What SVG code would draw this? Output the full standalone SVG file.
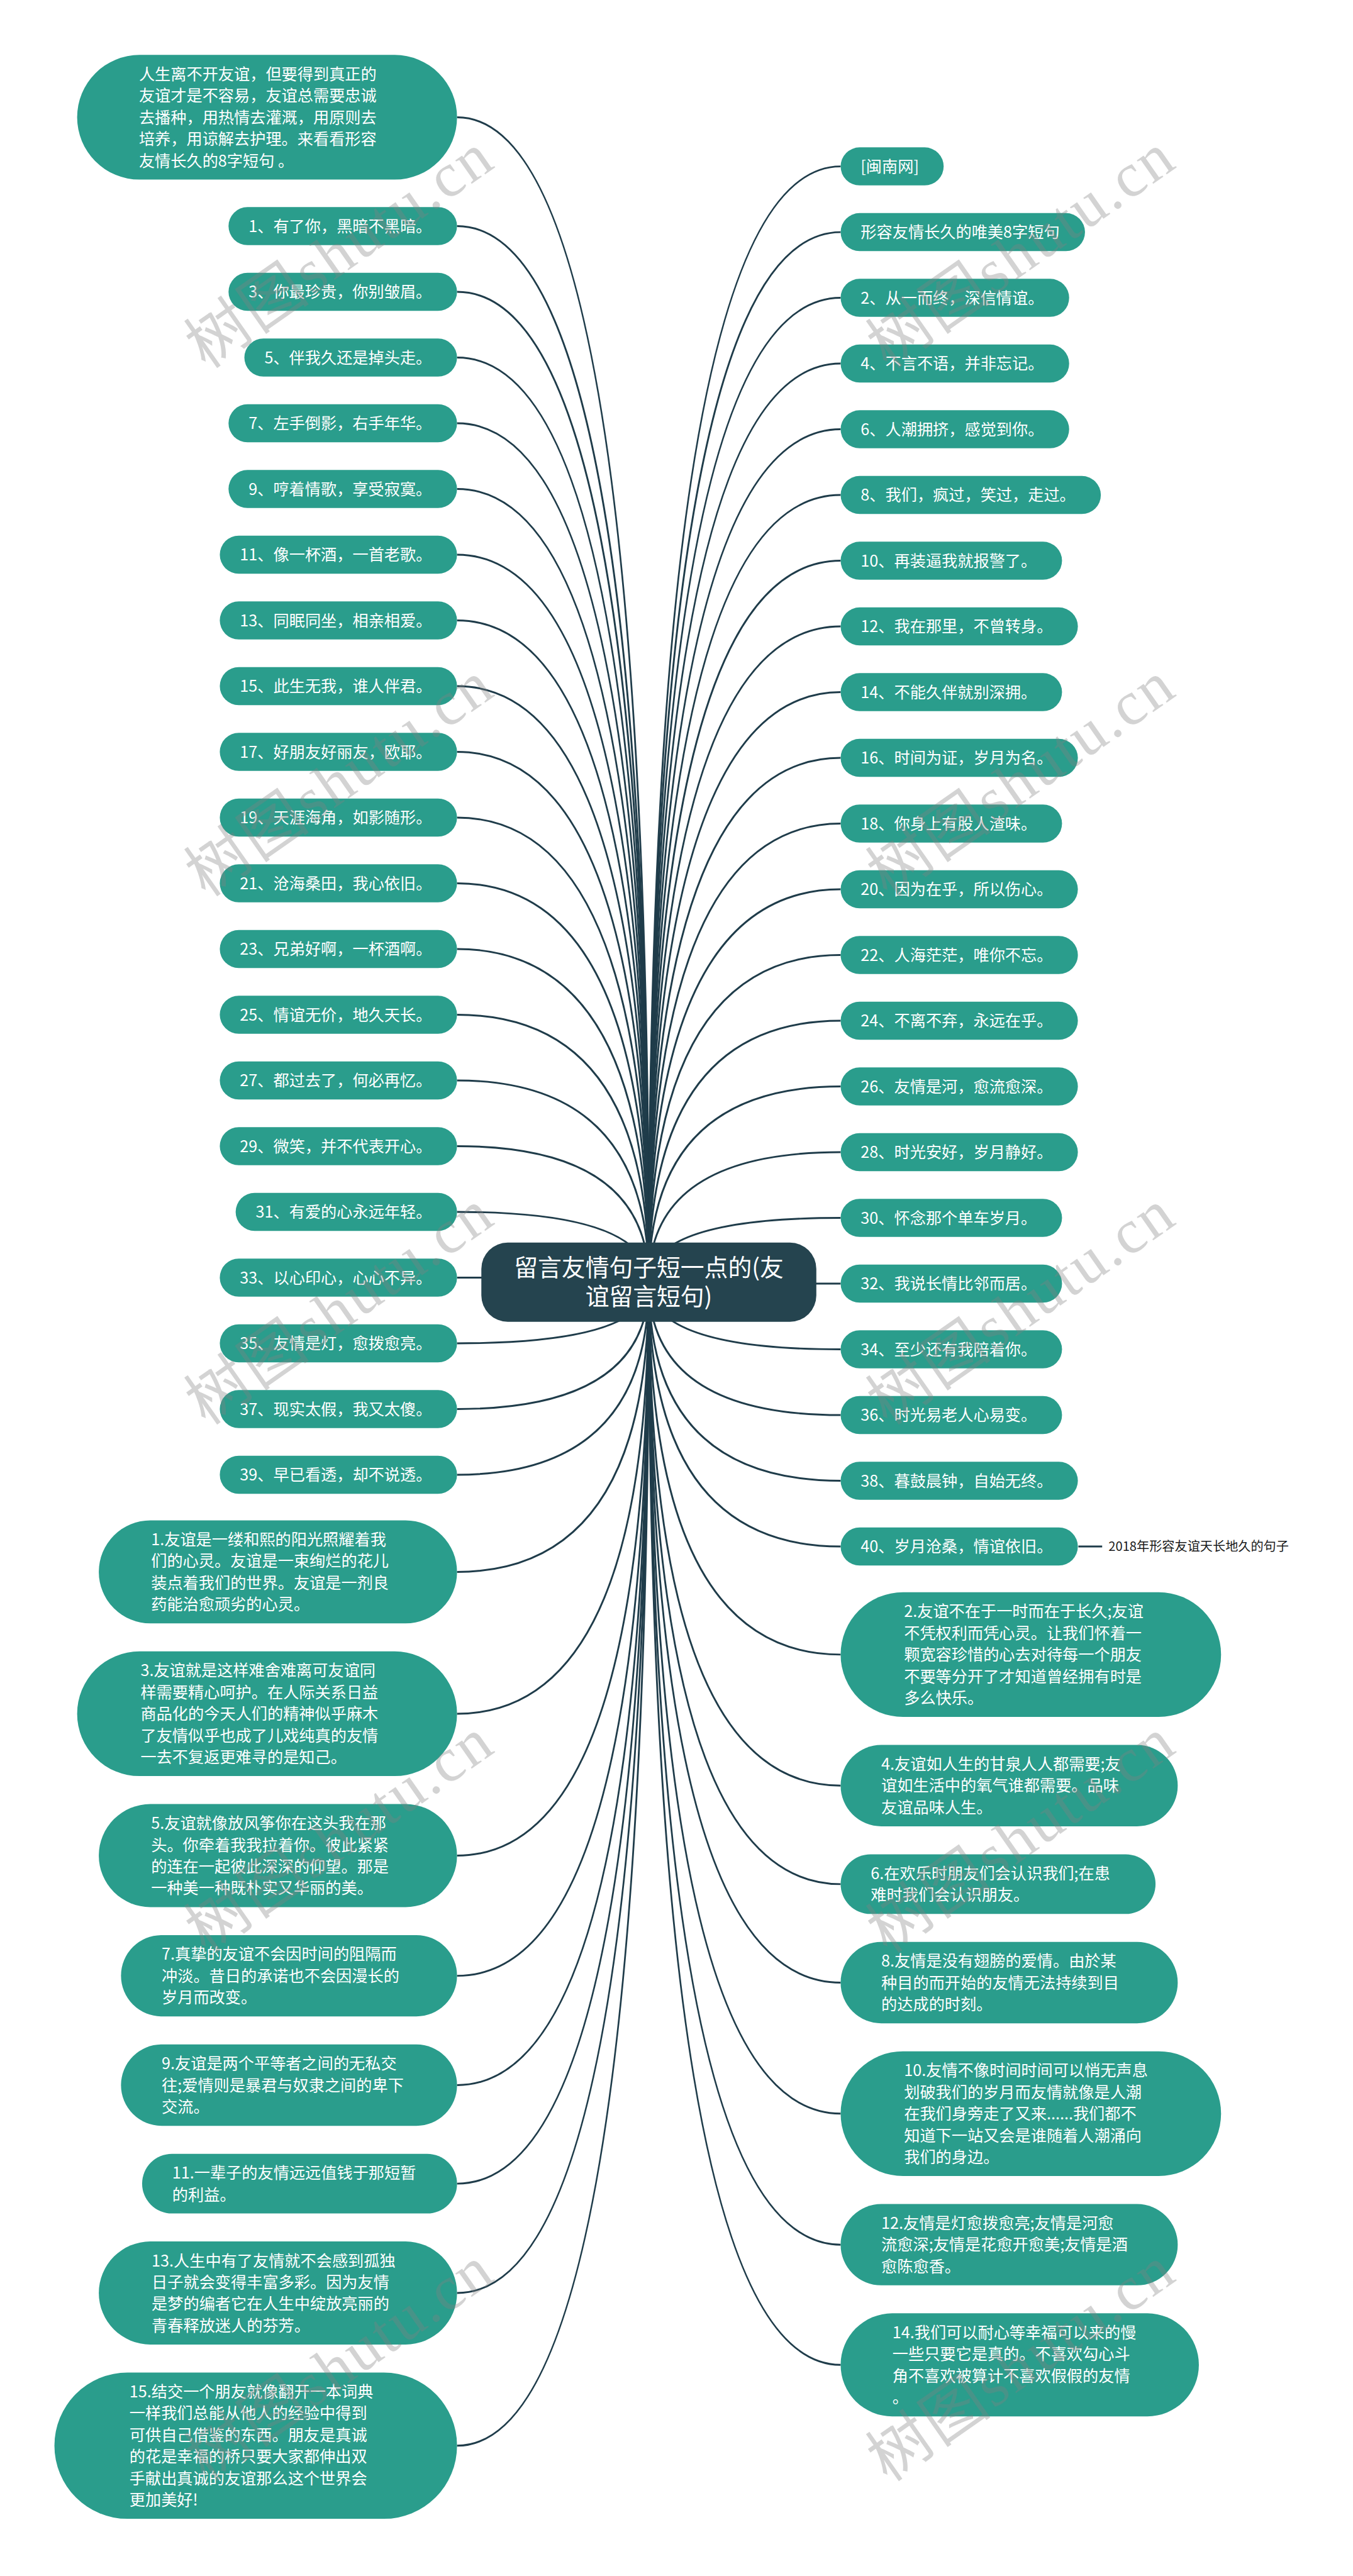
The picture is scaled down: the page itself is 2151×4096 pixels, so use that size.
<svg xmlns="http://www.w3.org/2000/svg" width="2151" height="4096" viewBox="0 0 2151 4096">
<defs>
<style>
.n{fill:#2a9d8c}
.t{font-family:"Noto Sans CJK SC","Noto Sans",sans-serif;font-size:30px;fill:#ffffff}
.c{fill:none;stroke:#1f3c4a;stroke-width:3.5}
.root{fill:#25444f}
.rt{font-family:"Noto Sans CJK SC","Noto Sans",sans-serif;font-size:45px;fill:#ffffff;text-anchor:middle}
.lbl{font-family:"Noto Sans CJK SC","Noto Sans",sans-serif;font-size:24px;fill:#1a1a1a}
.wm{font-family:"Liberation Serif","Noto Sans CJK SC",serif;font-size:118px;fill:#808080;fill-opacity:0.35}
</style>
</defs>
<rect width="2151" height="4096" fill="#ffffff"/>
<g transform="scale(0.84)">
<g id="connectors">
<path class="c" d="M1228 2427 Q1228 222 865 222"/>
<path class="c" d="M1228 2427 Q1228 428 865 428"/>
<path class="c" d="M1228 2427 Q1228 552.4 865 552.4"/>
<path class="c" d="M1228 2427 Q1228 676.8 865 676.8"/>
<path class="c" d="M1228 2427 Q1228 801.2 865 801.2"/>
<path class="c" d="M1228 2427 Q1228 925.6 865 925.6"/>
<path class="c" d="M1228 2427 Q1228 1050 865 1050"/>
<path class="c" d="M1228 2427 Q1228 1174.4 865 1174.4"/>
<path class="c" d="M1228 2427 Q1228 1298.8 865 1298.8"/>
<path class="c" d="M1228 2427 Q1228 1423.2 865 1423.2"/>
<path class="c" d="M1228 2427 Q1228 1547.6 865 1547.6"/>
<path class="c" d="M1228 2427 Q1228 1672 865 1672"/>
<path class="c" d="M1228 2427 Q1228 1796.4 865 1796.4"/>
<path class="c" d="M1228 2427 Q1228 1920.8 865 1920.8"/>
<path class="c" d="M1228 2427 Q1228 2045.2 865 2045.2"/>
<path class="c" d="M1228 2427 Q1228 2169.6 865 2169.6"/>
<path class="c" d="M1228 2427 Q1228 2294 865 2294"/>
<path class="c" d="M1228 2427 Q1228 2418.4 865 2418.4"/>
<path class="c" d="M1228 2427 Q1228 2542.8 865 2542.8"/>
<path class="c" d="M1228 2427 Q1228 2667.2 865 2667.2"/>
<path class="c" d="M1228 2427 Q1228 2791.6 865 2791.6"/>
<path class="c" d="M1228 2427 Q1228 2975.5 865 2975.5"/>
<path class="c" d="M1228 2427 Q1228 3244 865 3244"/>
<path class="c" d="M1228 2427 Q1228 3512.5 865 3512.5"/>
<path class="c" d="M1228 2427 Q1228 3740 865 3740"/>
<path class="c" d="M1228 2427 Q1228 3947 865 3947"/>
<path class="c" d="M1228 2427 Q1228 4133.5 865 4133.5"/>
<path class="c" d="M1228 2427 Q1228 4340.5 865 4340.5"/>
<path class="c" d="M1228 2427 Q1228 4629.5 865 4629.5"/>
<path class="c" d="M1228 2427 Q1228 315 1591 315"/>
<path class="c" d="M1228 2427 Q1228 439.4 1591 439.4"/>
<path class="c" d="M1228 2427 Q1228 563.8 1591 563.8"/>
<path class="c" d="M1228 2427 Q1228 688.2 1591 688.2"/>
<path class="c" d="M1228 2427 Q1228 812.6 1591 812.6"/>
<path class="c" d="M1228 2427 Q1228 937 1591 937"/>
<path class="c" d="M1228 2427 Q1228 1061.4 1591 1061.4"/>
<path class="c" d="M1228 2427 Q1228 1185.8 1591 1185.8"/>
<path class="c" d="M1228 2427 Q1228 1310.2 1591 1310.2"/>
<path class="c" d="M1228 2427 Q1228 1434.6 1591 1434.6"/>
<path class="c" d="M1228 2427 Q1228 1559 1591 1559"/>
<path class="c" d="M1228 2427 Q1228 1683.4 1591 1683.4"/>
<path class="c" d="M1228 2427 Q1228 1807.8 1591 1807.8"/>
<path class="c" d="M1228 2427 Q1228 1932.2 1591 1932.2"/>
<path class="c" d="M1228 2427 Q1228 2056.6 1591 2056.6"/>
<path class="c" d="M1228 2427 Q1228 2181 1591 2181"/>
<path class="c" d="M1228 2427 Q1228 2305.4 1591 2305.4"/>
<path class="c" d="M1228 2427 Q1228 2429.8 1591 2429.8"/>
<path class="c" d="M1228 2427 Q1228 2554.2 1591 2554.2"/>
<path class="c" d="M1228 2427 Q1228 2678.6 1591 2678.6"/>
<path class="c" d="M1228 2427 Q1228 2803 1591 2803"/>
<path class="c" d="M1228 2427 Q1228 2927.4 1591 2927.4"/>
<path class="c" d="M1228 2427 Q1228 3132 1591 3132"/>
<path class="c" d="M1228 2427 Q1228 3380 1591 3380"/>
<path class="c" d="M1228 2427 Q1228 3566.5 1591 3566.5"/>
<path class="c" d="M1228 2427 Q1228 3753 1591 3753"/>
<path class="c" d="M1228 2427 Q1228 4001 1591 4001"/>
<path class="c" d="M1228 2427 Q1228 4249 1591 4249"/>
<path class="c" d="M1228 2427 Q1228 4476.5 1591 4476.5"/>
<path class="c" d="M2041 2927.4 H2086"/>
</g>

<g id="root"><rect class="root" x="911" y="2352" width="634" height="150" rx="50"/>
<text class="rt"><tspan x="1228" y="2415.5">留言友情句子短一点的(友</tspan><tspan x="1228" y="2470.5">谊留言短句)</tspan></text></g>

<g id="intro"><rect class="n" x="146" y="104" width="719" height="236" rx="118"/>
<text class="t"><tspan x="263" y="151">人生离不开友谊，但要得到真正的</tspan><tspan x="263" y="192">友谊才是不容易，友谊总需要忠诚</tspan><tspan x="263" y="233">去播种，用热情去灌溉，用原则去</tspan><tspan x="263" y="274">培养，用谅解去护理。来看看形容</tspan><tspan x="263" y="315">友情长久的8字短句 。</tspan></text></g>

<g id="l1"><rect class="n" x="432.5" y="392" width="432.5" height="72" rx="36"/><text class="t" x="470.5" y="439">1、有了你，黑暗不黑暗。</text></g>
<g id="l3"><rect class="n" x="432.5" y="516.4" width="432.5" height="72" rx="36"/><text class="t" x="470.5" y="563.4">3、你最珍贵，你别皱眉。</text></g>
<g id="l5"><rect class="n" x="462.5" y="640.8" width="402.5" height="72" rx="36"/><text class="t" x="500.5" y="687.8">5、伴我久还是掉头走。</text></g>
<g id="l7"><rect class="n" x="432.5" y="765.2" width="432.5" height="72" rx="36"/><text class="t" x="470.5" y="812.2">7、左手倒影，右手年华。</text></g>
<g id="l9"><rect class="n" x="432.5" y="889.6" width="432.5" height="72" rx="36"/><text class="t" x="470.5" y="936.6">9、哼着情歌，享受寂寞。</text></g>
<g id="l11"><rect class="n" x="416" y="1014" width="449" height="72" rx="36"/><text class="t" x="454" y="1061">11、像一杯酒，一首老歌。</text></g>
<g id="l13"><rect class="n" x="416" y="1138.4" width="449" height="72" rx="36"/><text class="t" x="454" y="1185.4">13、同眠同坐，相亲相爱。</text></g>
<g id="l15"><rect class="n" x="416" y="1262.8" width="449" height="72" rx="36"/><text class="t" x="454" y="1309.8">15、此生无我，谁人伴君。</text></g>
<g id="l17"><rect class="n" x="416" y="1387.2" width="449" height="72" rx="36"/><text class="t" x="454" y="1434.2">17、好朋友好丽友，欧耶。</text></g>
<g id="l19"><rect class="n" x="416" y="1511.6" width="449" height="72" rx="36"/><text class="t" x="454" y="1558.6">19、天涯海角，如影随形。</text></g>
<g id="l21"><rect class="n" x="416" y="1636" width="449" height="72" rx="36"/><text class="t" x="454" y="1683">21、沧海桑田，我心依旧。</text></g>
<g id="l23"><rect class="n" x="416" y="1760.4" width="449" height="72" rx="36"/><text class="t" x="454" y="1807.4">23、兄弟好啊，一杯酒啊。</text></g>
<g id="l25"><rect class="n" x="416" y="1884.8" width="449" height="72" rx="36"/><text class="t" x="454" y="1931.8">25、情谊无价，地久天长。</text></g>
<g id="l27"><rect class="n" x="416" y="2009.2" width="449" height="72" rx="36"/><text class="t" x="454" y="2056.2">27、都过去了，何必再忆。</text></g>
<g id="l29"><rect class="n" x="416" y="2133.6" width="449" height="72" rx="36"/><text class="t" x="454" y="2180.6">29、微笑，并不代表开心。</text></g>
<g id="l31"><rect class="n" x="446" y="2258" width="419" height="72" rx="36"/><text class="t" x="484" y="2305">31、有爱的心永远年轻。</text></g>
<g id="l33"><rect class="n" x="416" y="2382.4" width="449" height="72" rx="36"/><text class="t" x="454" y="2429.4">33、以心印心，心心不异。</text></g>
<g id="l35"><rect class="n" x="416" y="2506.8" width="449" height="72" rx="36"/><text class="t" x="454" y="2553.8">35、友情是灯，愈拨愈亮。</text></g>
<g id="l37"><rect class="n" x="416" y="2631.2" width="449" height="72" rx="36"/><text class="t" x="454" y="2678.2">37、现实太假，我又太傻。</text></g>
<g id="l39"><rect class="n" x="416" y="2755.6" width="449" height="72" rx="36"/><text class="t" x="454" y="2802.6">39、早已看透，却不说透。</text></g>

<g id="p1"><rect class="n" x="187" y="2878" width="678" height="195" rx="97.5"/>
<text class="t"><tspan x="286" y="2925">1.友谊是一缕和熙的阳光照耀着我</tspan><tspan x="286" y="2966">们的心灵。友谊是一束绚烂的花儿</tspan><tspan x="286" y="3007">装点着我们的世界。友谊是一剂良</tspan><tspan x="286" y="3048">药能治愈顽劣的心灵。</tspan></text></g>
<g id="p3"><rect class="n" x="146" y="3126" width="719" height="236" rx="118"/>
<text class="t"><tspan x="266" y="3173">3.友谊就是这样难舍难离可友谊同</tspan><tspan x="266" y="3214">样需要精心呵护。在人际关系日益</tspan><tspan x="266" y="3255">商品化的今天人们的精神似乎麻木</tspan><tspan x="266" y="3296">了友情似乎也成了儿戏纯真的友情</tspan><tspan x="266" y="3337">一去不复返更难寻的是知己。</tspan></text></g>
<g id="p5"><rect class="n" x="187" y="3415" width="678" height="195" rx="97.5"/>
<text class="t"><tspan x="286" y="3462">5.友谊就像放风筝你在这头我在那</tspan><tspan x="286" y="3503">头。你牵着我我拉着你。彼此紧紧</tspan><tspan x="286" y="3544">的连在一起彼此深深的仰望。那是</tspan><tspan x="286" y="3585">一种美一种既朴实又华丽的美。</tspan></text></g>
<g id="p7"><rect class="n" x="229" y="3663" width="636" height="154" rx="77"/>
<text class="t"><tspan x="306" y="3710">7.真挚的友谊不会因时间的阻隔而</tspan><tspan x="306" y="3751">冲淡。昔日的承诺也不会因漫长的</tspan><tspan x="306" y="3792">岁月而改变。</tspan></text></g>
<g id="p9"><rect class="n" x="229" y="3870" width="636" height="154" rx="77"/>
<text class="t"><tspan x="306" y="3917">9.友谊是两个平等者之间的无私交</tspan><tspan x="306" y="3958">往;爱情则是暴君与奴隶之间的卑下</tspan><tspan x="306" y="3999">交流。</tspan></text></g>
<g id="p11"><rect class="n" x="269" y="4077" width="596" height="113" rx="56.5"/>
<text class="t"><tspan x="326" y="4124">11.一辈子的友情远远值钱于那短暂</tspan><tspan x="326" y="4165">的利益。</tspan></text></g>
<g id="p13"><rect class="n" x="187" y="4243" width="678" height="195" rx="97.5"/>
<text class="t"><tspan x="287" y="4290">13.人生中有了友情就不会感到孤独</tspan><tspan x="287" y="4331">日子就会变得丰富多彩。因为友情</tspan><tspan x="287" y="4372">是梦的编者它在人生中绽放亮丽的</tspan><tspan x="287" y="4413">青春释放迷人的芬芳。</tspan></text></g>
<g id="p15"><rect class="n" x="103" y="4491" width="762" height="277" rx="138.5"/>
<text class="t"><tspan x="245" y="4538">15.结交一个朋友就像翻开一本词典</tspan><tspan x="245" y="4579">一样我们总能从他人的经验中得到</tspan><tspan x="245" y="4620">可供自己借鉴的东西。朋友是真诚</tspan><tspan x="245" y="4661">的花是幸福的桥只要大家都伸出双</tspan><tspan x="245" y="4702">手献出真诚的友谊那么这个世界会</tspan><tspan x="245" y="4743">更加美好!</tspan></text></g>

<g id="r0"><rect class="n" x="1591" y="279" width="195" height="72" rx="36"/><text class="t" x="1629" y="326">[闽南网]</text></g>
<g id="r1"><rect class="n" x="1591" y="403.4" width="462.5" height="72" rx="36"/><text class="t" x="1629" y="450.4">形容友情长久的唯美8字短句</text></g>
<g id="r2"><rect class="n" x="1591" y="527.8" width="432.5" height="72" rx="36"/><text class="t" x="1629" y="574.8">2、从一而终，深信情谊。</text></g>
<g id="r4"><rect class="n" x="1591" y="652.2" width="432.5" height="72" rx="36"/><text class="t" x="1629" y="699.2">4、不言不语，并非忘记。</text></g>
<g id="r6"><rect class="n" x="1591" y="776.6" width="432.5" height="72" rx="36"/><text class="t" x="1629" y="823.6">6、人潮拥挤，感觉到你。</text></g>
<g id="r8"><rect class="n" x="1591" y="901" width="492.5" height="72" rx="36"/><text class="t" x="1629" y="948">8、我们，疯过，笑过，走过。</text></g>
<g id="r10"><rect class="n" x="1591" y="1025.4" width="419" height="72" rx="36"/><text class="t" x="1629" y="1072.4">10、再装逼我就报警了。</text></g>
<g id="r12"><rect class="n" x="1591" y="1149.8" width="449" height="72" rx="36"/><text class="t" x="1629" y="1196.8">12、我在那里，不曾转身。</text></g>
<g id="r14"><rect class="n" x="1591" y="1274.2" width="419" height="72" rx="36"/><text class="t" x="1629" y="1321.2">14、不能久伴就别深拥。</text></g>
<g id="r16"><rect class="n" x="1591" y="1398.6" width="449" height="72" rx="36"/><text class="t" x="1629" y="1445.6">16、时间为证，岁月为名。</text></g>
<g id="r18"><rect class="n" x="1591" y="1523" width="419" height="72" rx="36"/><text class="t" x="1629" y="1570">18、你身上有股人渣味。</text></g>
<g id="r20"><rect class="n" x="1591" y="1647.4" width="449" height="72" rx="36"/><text class="t" x="1629" y="1694.4">20、因为在乎，所以伤心。</text></g>
<g id="r22"><rect class="n" x="1591" y="1771.8" width="449" height="72" rx="36"/><text class="t" x="1629" y="1818.8">22、人海茫茫，唯你不忘。</text></g>
<g id="r24"><rect class="n" x="1591" y="1896.2" width="449" height="72" rx="36"/><text class="t" x="1629" y="1943.2">24、不离不弃，永远在乎。</text></g>
<g id="r26"><rect class="n" x="1591" y="2020.6" width="449" height="72" rx="36"/><text class="t" x="1629" y="2067.6">26、友情是河，愈流愈深。</text></g>
<g id="r28"><rect class="n" x="1591" y="2145" width="449" height="72" rx="36"/><text class="t" x="1629" y="2192">28、时光安好，岁月静好。</text></g>
<g id="r30"><rect class="n" x="1591" y="2269.4" width="419" height="72" rx="36"/><text class="t" x="1629" y="2316.4">30、怀念那个单车岁月。</text></g>
<g id="r32"><rect class="n" x="1591" y="2393.8" width="419" height="72" rx="36"/><text class="t" x="1629" y="2440.8">32、我说长情比邻而居。</text></g>
<g id="r34"><rect class="n" x="1591" y="2518.2" width="419" height="72" rx="36"/><text class="t" x="1629" y="2565.2">34、至少还有我陪着你。</text></g>
<g id="r36"><rect class="n" x="1591" y="2642.6" width="419" height="72" rx="36"/><text class="t" x="1629" y="2689.6">36、时光易老人心易变。</text></g>
<g id="r38"><rect class="n" x="1591" y="2767" width="449" height="72" rx="36"/><text class="t" x="1629" y="2814">38、暮鼓晨钟，自始无终。</text></g>
<g id="r40"><rect class="n" x="1591" y="2891.4" width="449" height="72" rx="36"/><text class="t" x="1629" y="2938.4">40、岁月沧桑，情谊依旧。</text></g>
<g id="label2018"><text class="lbl" x="2098" y="2936">2018年形容友谊天长地久的句子</text></g>

<g id="q2"><rect class="n" x="1591" y="3014" width="720" height="236" rx="118"/>
<text class="t"><tspan x="1711" y="3061">2.友谊不在于一时而在于长久;友谊</tspan><tspan x="1711" y="3102">不凭权利而凭心灵。让我们怀着一</tspan><tspan x="1711" y="3143">颗宽容珍惜的心去对待每一个朋友</tspan><tspan x="1711" y="3184">不要等分开了才知道曾经拥有时是</tspan><tspan x="1711" y="3225">多么快乐。</tspan></text></g>
<g id="q4"><rect class="n" x="1591" y="3303" width="638" height="154" rx="77"/>
<text class="t"><tspan x="1668" y="3350">4.友谊如人生的甘泉人人都需要;友</tspan><tspan x="1668" y="3391">谊如生活中的氧气谁都需要。品味</tspan><tspan x="1668" y="3432">友谊品味人生。</tspan></text></g>
<g id="q6"><rect class="n" x="1591" y="3510" width="596" height="113" rx="56.5"/>
<text class="t"><tspan x="1648" y="3557">6.在欢乐时朋友们会认识我们;在患</tspan><tspan x="1648" y="3598">难时我们会认识朋友。</tspan></text></g>
<g id="q8"><rect class="n" x="1591" y="3676" width="638" height="154" rx="77"/>
<text class="t"><tspan x="1668" y="3723">8.友情是没有翅膀的爱情。由於某</tspan><tspan x="1668" y="3764">种目的而开始的友情无法持续到目</tspan><tspan x="1668" y="3805">的达成的时刻。</tspan></text></g>
<g id="q10"><rect class="n" x="1591" y="3883" width="720" height="236" rx="118"/>
<text class="t"><tspan x="1711" y="3930">10.友情不像时间时间可以悄无声息</tspan><tspan x="1711" y="3971">划破我们的岁月而友情就像是人潮</tspan><tspan x="1711" y="4012">在我们身旁走了又来......我们都不</tspan><tspan x="1711" y="4053">知道下一站又会是谁随着人潮涌向</tspan><tspan x="1711" y="4094">我们的身边。</tspan></text></g>
<g id="q12"><rect class="n" x="1591" y="4172" width="638" height="154" rx="77"/>
<text class="t"><tspan x="1668" y="4219">12.友情是灯愈拨愈亮;友情是河愈</tspan><tspan x="1668" y="4260">流愈深;友情是花愈开愈美;友情是酒</tspan><tspan x="1668" y="4301">愈陈愈香。</tspan></text></g>
<g id="q14"><rect class="n" x="1591" y="4379" width="678" height="195" rx="97.5"/>
<text class="t"><tspan x="1689" y="4426">14.我们可以耐心等幸福可以来的慢</tspan><tspan x="1689" y="4467">一些只要它是真的。不喜欢勾心斗</tspan><tspan x="1689" y="4508">角不喜欢被算计不喜欢假假的友情</tspan><tspan x="1689" y="4549">。</tspan></text></g>

<g id="watermark">
<text class="wm" x="390" y="700" transform="rotate(-35 390 700)" textLength="670" lengthAdjust="spacing">树图shutu.cn</text>
<text class="wm" x="390" y="1700" transform="rotate(-35 390 1700)" textLength="670" lengthAdjust="spacing">树图shutu.cn</text>
<text class="wm" x="390" y="2700" transform="rotate(-35 390 2700)" textLength="670" lengthAdjust="spacing">树图shutu.cn</text>
<text class="wm" x="390" y="3700" transform="rotate(-35 390 3700)" textLength="670" lengthAdjust="spacing">树图shutu.cn</text>
<text class="wm" x="390" y="4700" transform="rotate(-35 390 4700)" textLength="670" lengthAdjust="spacing">树图shutu.cn</text>
<text class="wm" x="1680" y="700" transform="rotate(-35 1680 700)" textLength="670" lengthAdjust="spacing">树图shutu.cn</text>
<text class="wm" x="1680" y="1700" transform="rotate(-35 1680 1700)" textLength="670" lengthAdjust="spacing">树图shutu.cn</text>
<text class="wm" x="1680" y="2700" transform="rotate(-35 1680 2700)" textLength="670" lengthAdjust="spacing">树图shutu.cn</text>
<text class="wm" x="1680" y="3700" transform="rotate(-35 1680 3700)" textLength="670" lengthAdjust="spacing">树图shutu.cn</text>
<text class="wm" x="1680" y="4700" transform="rotate(-35 1680 4700)" textLength="670" lengthAdjust="spacing">树图shutu.cn</text>
</g>
</g>
</svg>
